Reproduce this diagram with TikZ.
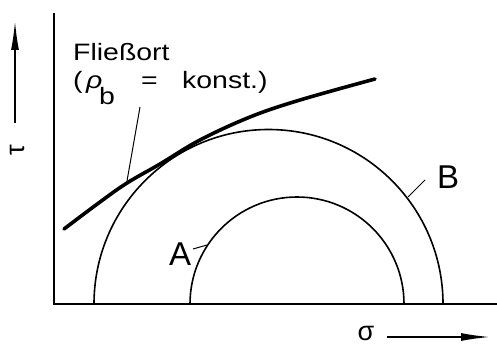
\documentclass[tikz,border=0pt]{standalone}
\usepackage{fontspec}
\setmainfont{Liberation Sans}
\usetikzlibrary{arrows.meta}
\newcommand{\widetxt}[1]{\scalebox{1.2}[1]{#1}}
\begin{document}
\begin{tikzpicture}[x=1pt,y=-1pt,
  axis/.style={line width=2pt},
  circ/.style={line width=1.6pt},
  yield/.style={line width=3.6pt, line cap=round},
  leader/.style={line width=1pt},
  dirarrow/.style={line width=2pt, -{Latex[length=30pt,width=8pt]}},
  lbl/.style={inner sep=0pt, anchor=base west},
  txt/.style={lbl, font=\fontsize{23.7}{28}\selectfont},
  big/.style={lbl, font=\fontsize{33}{38}\selectfont},
  greek/.style={inner sep=0pt, font=\fontsize{27}{32}\selectfont}]
\useasboundingbox (0,0) rectangle (497,345);
% axes
\coordinate (O) at (54,304);
\coordinate (ytop) at (54,13);
\coordinate (xend) at (497,304);
\draw[axis] (ytop) -- (O) -- (xend);
% Mohr circles
\draw[circ] (94,304) arc[start angle=180, end angle=0, radius=174.5pt];
\draw[circ] (190,304) arc[start angle=180, end angle=0, radius=107pt];
% yield locus
\draw[yield] plot[smooth, tension=0.6] coordinates {(64,229) (100,202) (127,183) (160,164) (200,140) (250,117) (300,100) (375,79)};
% text
\node[txt] (t1) at (73,60) {\widetxt{Fließort}};
\node[txt] (p1) at (73,88) {\widetxt{(}};
\node[txt] (rho) at (86,88) {\widetxt{\itshape ρ}};
\node[txt] (sub) at (99,104) {\widetxt{b}};
\node[txt] (eq) at (141,88) {\widetxt{=}};
\node[txt] (k) at (182,88) {\widetxt{konst.)}};
\coordinate (fl1) at (140,107);
\coordinate (fl2) at (127,181);
\draw[leader] (fl1) -- (fl2);
% labels A, B
\node[big] (B) at (437,188) {B};
\coordinate (b1) at (408,197);
\coordinate (b2) at (425,180);
\draw[leader] (b1) -- (b2);
\node[big] (A) at (169,265) {A};
\coordinate (a1) at (193,249);
\coordinate (a2) at (207,245);
\draw[leader] (a1) -- (a2);
% axis labels
\node[greek, rotate=90] (tau) at (17,150) {τ};
\coordinate (ta1) at (15,123);
\coordinate (ta2) at (15,20);
\draw[dirarrow] (ta1) -- (ta2);
\node[greek] (sigma) at (366,333) {σ};
\coordinate (sa1) at (387,337);
\coordinate (sa2) at (491,337);
\draw[dirarrow] (sa1) -- (sa2);
\end{tikzpicture}
\end{document}
